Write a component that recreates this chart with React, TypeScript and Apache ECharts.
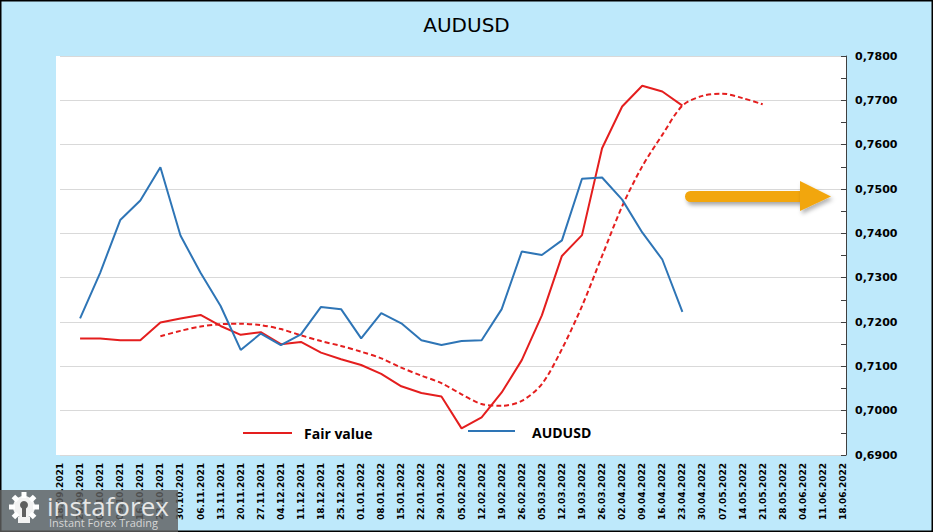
import React, { useEffect, useRef } from "react";
import * as echarts from "echarts";

const categories = [
  "18.09.2021", "25.09.2021", "02.10.2021", "09.10.2021", "16.10.2021", "23.10.2021",
  "30.10.2021", "06.11.2021", "13.11.2021", "20.11.2021", "27.11.2021", "04.12.2021",
  "11.12.2021", "18.12.2021", "25.12.2021", "01.01.2022", "08.01.2022", "15.01.2022",
  "22.01.2022", "29.01.2022", "05.02.2022", "12.02.2022", "19.02.2022", "26.02.2022",
  "05.03.2022", "12.03.2022", "19.03.2022", "26.03.2022", "02.04.2022", "09.04.2022",
  "16.04.2022", "23.04.2022", "30.04.2022", "07.05.2022", "14.05.2022", "21.05.2022",
  "28.05.2022", "04.06.2022", "11.06.2022", "18.06.2022",
];

const audusd = [
  null, 0.7208, 0.7311, 0.7430, 0.7474, 0.7549, 0.7395, 0.7311, 0.7236, 0.7137,
  0.7174, 0.7148, 0.7172, 0.7234, 0.7229, 0.7163, 0.7220, 0.7197, 0.7159, 0.7148,
  0.7157, 0.7159, 0.7229, 0.7359, 0.7351, 0.7384, 0.7523, 0.7526, 0.7476, 0.7402,
  0.7341, 0.7223,
];

const fairValue = [
  null, 0.7163, 0.7163, 0.7159, 0.7159, 0.7199, 0.7208, 0.7216, 0.7191, 0.7171,
  0.7177, 0.7150, 0.7155, 0.7131, 0.7116, 0.7103, 0.7083, 0.7055, 0.7040, 0.7032,
  0.6960, 0.6985, 0.7041, 0.7114, 0.7215, 0.7349, 0.7396, 0.7592, 0.7686, 0.7733,
  0.7720, 0.7688,
];

const fairTrend = [
  null, null, null, null, null, 0.7168, 0.7180, 0.7190, 0.7195, 0.7196,
  0.7193, 0.7184, 0.7170, 0.7157, 0.7146, 0.7133, 0.7118, 0.7097, 0.7079, 0.7062,
  0.7037, 0.7015, 0.7011, 0.7022, 0.7060, 0.7139, 0.7236, 0.7349, 0.7461, 0.7551,
  0.7622, 0.7688, 0.7710, 0.7715, 0.7705, 0.7691,
];

const RED = "#E41E1E";
const BLUE = "#2E75B6";
const BG = "#BEE9FB";

export default function App() {
  const ref = useRef<HTMLDivElement>(null);

  useEffect(() => {
    document.body.style.margin = "0";
    if (!ref.current) return;
    const chart = echarts.init(ref.current, null, { renderer: "svg" });

    const teeth: any[] = [];
    for (let i = 0; i < 8; i++) {
      teeth.push({
        type: "rect",
        x: 24 - 2.5,
        y: 507 - 15,
        shape: { x: 0, y: 0, width: 5, height: 6 },
        originX: 2.5,
        originY: 15,
        rotation: (i * Math.PI) / 4,
        style: { fill: "#ffffff" },
        z: 101,
      });
    }

    chart.setOption({
      animation: false,
      backgroundColor: BG,
      title: {
        text: "AUDUSD",
        left: "center",
        top: 10,
        textStyle: { fontFamily: "DejaVu Sans", fontSize: 20, fontWeight: "normal", color: "#000" },
      },
      grid: { left: 60, right: 90, top: 56, bottom: 77 },
      xAxis: {
        type: "category",
        data: categories,
        boundaryGap: false,
        axisLine: { show: false },
        axisTick: { show: false },
        splitLine: { show: false },
        axisLabel: {
          rotate: 90,
          interval: 0,
          margin: 8,
          fontFamily: "DejaVu Sans",
          fontSize: 9,
          fontWeight: "bold",
          color: "#000",
        },
      },
      yAxis: {
        type: "value",
        position: "right",
        offset: 3,
        min: 0.69,
        max: 0.78,
        interval: 0.01,
        axisLine: { show: true, lineStyle: { color: "#404040", width: 1 } },
        axisTick: { show: true, inside: true, length: 5, lineStyle: { color: "#404040" } },
        minorTick: { show: true, splitNumber: 2, length: 5, lineStyle: { color: "#404040" } },
        splitLine: { show: true, lineStyle: { color: "#d9d9d9", width: 1 } },
        axisLabel: {
          margin: 9,
          fontFamily: "DejaVu Sans",
          fontSize: 11,
          fontWeight: "bold",
          color: "#000",
          formatter: (v: number) => v.toFixed(4).replace(".", ","),
        },
      },
      series: [
        {
          name: "Fair value",
          type: "line",
          data: fairValue,
          symbol: "none",
          lineStyle: { color: RED, width: 2 },
          z: 3,
        },
        {
          name: "Fair value trend",
          type: "line",
          data: fairTrend,
          symbol: "none",
          smooth: 0.3,
          lineStyle: { color: RED, width: 2, type: [5, 3] },
          z: 3,
        },
        {
          name: "AUDUSD",
          type: "line",
          data: audusd,
          symbol: "none",
          lineStyle: { color: BLUE, width: 2 },
          z: 4,
        },
      ],
      graphic: [
        {
          type: "rect",
          shape: { x: 56, y: 56, width: 790, height: 399 },
          style: { fill: "#ffffff" },
          z: -10,
        },
        {
          type: "rect",
          shape: { x: 0.75, y: 0.75, width: 931.5, height: 530.5 },
          style: { fill: "none", stroke: "#000", lineWidth: 1.5 },
          z: 50,
        },
        // legend
        {
          type: "line",
          shape: { x1: 243, y1: 433, x2: 292, y2: 433 },
          style: { stroke: RED, lineWidth: 2 },
          z: 20,
        },
        {
          type: "text",
          x: 304,
          y: 433,
          style: {
            text: "Fair value",
            fontFamily: "Open Sans",
            fontSize: 14,
            fontWeight: "bold",
            fill: "#000",
            verticalAlign: "middle",
          },
          z: 20,
        },
        {
          type: "line",
          shape: { x1: 468, y1: 431, x2: 515, y2: 431 },
          style: { stroke: BLUE, lineWidth: 2 },
          z: 20,
        },
        {
          type: "text",
          x: 532,
          y: 432,
          style: {
            text: "AUDUSD",
            fontFamily: "Open Sans",
            fontSize: 14,
            fontWeight: "bold",
            fill: "#000",
            verticalAlign: "middle",
          },
          z: 20,
        },
        // arrow
        {
          type: "rect",
          shape: { x: 685, y: 191, width: 122, height: 11, r: 5.5 },
          style: {
            fill: "#F2A60C",
            shadowBlur: 4,
            shadowColor: "rgba(0,0,0,0.35)",
            shadowOffsetX: 2,
            shadowOffsetY: 3,
          },
          z: 20,
        },
        {
          type: "polygon",
          shape: { points: [[800, 181], [831, 196.5], [800, 211]] },
          style: {
            fill: "#F2A60C",
            shadowBlur: 4,
            shadowColor: "rgba(0,0,0,0.3)",
            shadowOffsetX: 2,
            shadowOffsetY: 3,
          },
          z: 20,
        },
        // watermark logo
        {
          type: "rect",
          shape: { x: 0, y: 490, width: 178, height: 42 },
          style: { fill: "rgba(95,95,95,0.82)" },
          z: 100,
        },
        {
          type: "circle",
          shape: { cx: 24, cy: 507, r: 11 },
          style: { fill: "#f2f2f2" },
          z: 101,
        },
        ...teeth,
        {
          type: "circle",
          shape: { cx: 24, cy: 505, r: 4 },
          style: { fill: "rgba(95,95,95,1)" },
          z: 102,
        },
        {
          type: "rect",
          shape: { x: 22, y: 507, width: 4, height: 10 },
          style: { fill: "rgba(95,95,95,1)" },
          z: 102,
        },
        {
          type: "rect",
          shape: { x: 18, y: 517, width: 12, height: 6 },
          style: { fill: "#f2f2f2" },
          z: 101,
        },
        {
          type: "text",
          x: 47,
          y: 506,
          style: {
            text: "instaforex",
            fontFamily: "Open Sans",
            fontSize: 26,
            fill: "#e6e6e6",
            verticalAlign: "middle",
          },
          z: 103,
        },
        {
          type: "text",
          x: 49,
          y: 522,
          style: {
            text: "Instant Forex Trading",
            fontFamily: "Open Sans",
            fontSize: 11,
            fill: "#d6d6d6",
            verticalAlign: "middle",
          },
          z: 103,
        },
      ],
    });

    return () => chart.dispose();
  }, []);

  return <div ref={ref} style={{ width: 933, height: 532 }} />;
}
